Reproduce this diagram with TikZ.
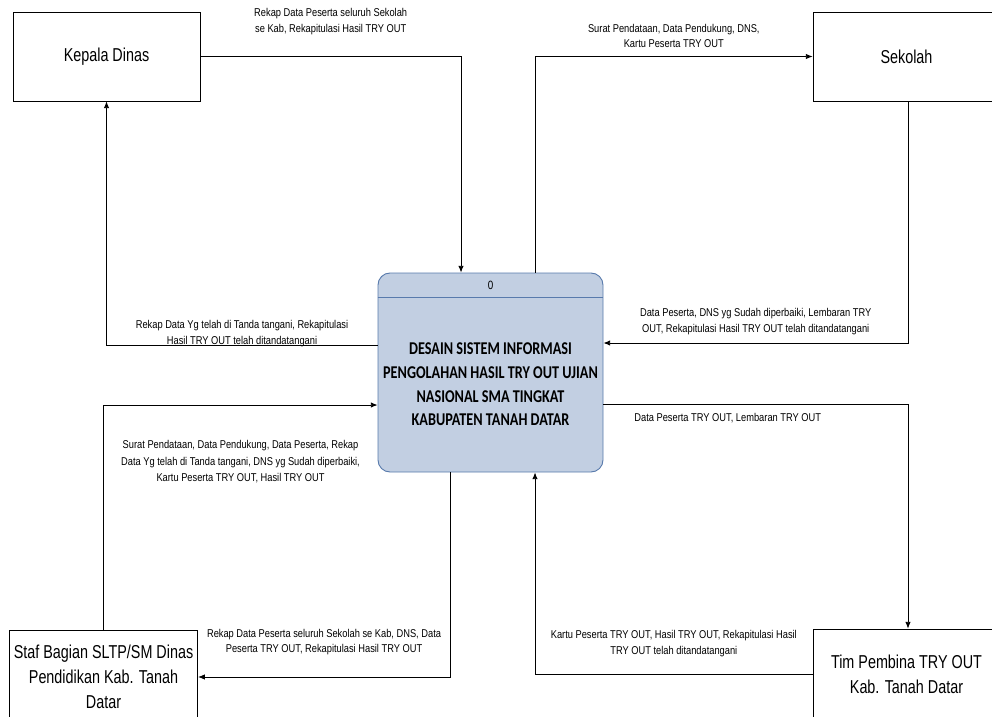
\documentclass[tikz,border=0pt]{standalone}
\usepackage{fontspec}
\setmainfont{Liberation Sans}[FakeStretch=0.82]
\newfontfamily\entfont{Liberation Sans}[FakeStretch=0.77]
\newfontfamily\procfont{Carlito}[FakeStretch=0.79]
\usepackage{xcolor}
\usepackage{tikz}
\usetikzlibrary{arrows.meta,calc,positioning}
\definecolor{procfill}{RGB}{194,207,226}
\definecolor{procline}{RGB}{88,122,172}
\begin{document}
\begin{tikzpicture}[
  x=0.75pt,y=-0.75pt,
  entity/.style={draw,line width=0.6pt,minimum width=140.25pt,minimum height=66.75pt,align=center,font=\entfont\fontsize{14}{18.75}\selectfont},
  proc/.style={draw=procline,fill=procfill,line width=0.7pt,rounded corners=9pt,minimum width=168.75pt,minimum height=149.25pt},
  proctext/.style={align=center,font=\procfont\bfseries\fontsize{13.5}{17.8}\selectfont},
  lbl/.style={align=center,inner sep=0pt,font=\fontsize{8.5}{11.6}\selectfont},
  arrow/.style={-{Latex[length=5pt,width=4pt]},line width=0.6pt}
]
\useasboundingbox (0,0) rectangle (992,717);
\node[entity] (kepala) at (106.5,56.5) {Kepala Dinas};
\node[entity] (sekolah) at (906.5,56.5) {Sekolah};
\node[entity,minimum height=70pt] (staf) at (103.5,677) {Staf Bagian SLTP/SM Dinas\\Pendidikan Kab. Tanah\\Datar};
\node[entity,minimum height=68.25pt] (tim) at (906.5,674.5) {Tim Pembina TRY OUT\\Kab. Tanah Datar};
\node[proc] (proc) at (490.5,372.5) {};
\draw[procline,line width=0.7pt] ($(proc.north west)+(0,25)$) -- ($(proc.north east)+(0,25)$);
\node[font=\fontsize{9}{11}\selectfont] (pnum) at ($(proc.north)+(0,12.5)$) {0};
\node[proctext] (ptitle) at (490.5,384.5) {DESAIN SISTEM INFORMASI\\PENGOLAHAN HASIL TRY OUT UJIAN\\NASIONAL SMA TINGKAT\\KABUPATEN TANAH DATAR};
\draw[arrow] (kepala.east) -| node[lbl,above=16pt,pos=0.25] (l1) {Rekap Data Peserta seluruh Sekolah\\se Kab, Rekapitulasi Hasil TRY OUT} ($(proc.north)+(-29.5,0)$);
\draw[arrow] ($(proc.north)+(44.5,0)$) |- node[lbl,above=6pt,pos=0.75] (l2) {Surat Pendataan, Data Pendukung, DNS,\\Kartu Peserta TRY OUT} (sekolah.west);
\draw[arrow] ($(sekolah.south)+(1.5,0)$) |- node[lbl,above=6pt,pos=0.75] (l3) {Data Peserta, DNS yg Sudah diperbaiki, Lembaran TRY\\OUT, Rekapitulasi Hasil TRY OUT telah ditandatangani} ($(proc.east)+(0,-29.5)$);
\draw[arrow] ($(proc.west)+(0,-27.5)$) -| node[lbl,above=-1.5pt,pos=0.25] (l4) {Rekap Data Yg telah di Tanda tangani, Rekapitulasi\\Hasil TRY OUT telah ditandatangani} (kepala.south);
\draw[arrow] (staf.north) |- node[lbl,below=26pt,pos=0.75,font=\fontsize{8.5}{12.6}\selectfont] (l5) {Surat Pendataan, Data Pendukung, Data Peserta, Rekap\\Data Yg telah di Tanda tangani, DNS yg Sudah diperbaiki,\\Kartu Peserta TRY OUT, Hasil TRY OUT} ($(proc.west)+(0,32.5)$);
\draw[arrow] ($(proc.east)+(0,31.5)$) -| node[lbl,below=7pt,pos=0.25,xshift=-21pt] (l6) {Data Peserta TRY OUT, Lembaran TRY OUT} ($(tim.north)+(1.5,0)$);
\draw[arrow] (tim.west) -| node[lbl,above=13pt,pos=0.25] (l7) {Kartu Peserta TRY OUT, Hasil TRY OUT, Rekapitulasi Hasil\\TRY OUT telah ditandatangani} ($(proc.south)+(44.5,0)$);
\draw[arrow] ($(proc.south)+(-40.5,0)$) |- node[lbl,above=16pt,pos=0.75] (l8) {Rekap Data Peserta seluruh Sekolah se Kab, DNS, Data\\Peserta TRY OUT, Rekapitulasi Hasil TRY OUT} ($(staf.east)+(0,0)$);
\end{tikzpicture}
\end{document}
